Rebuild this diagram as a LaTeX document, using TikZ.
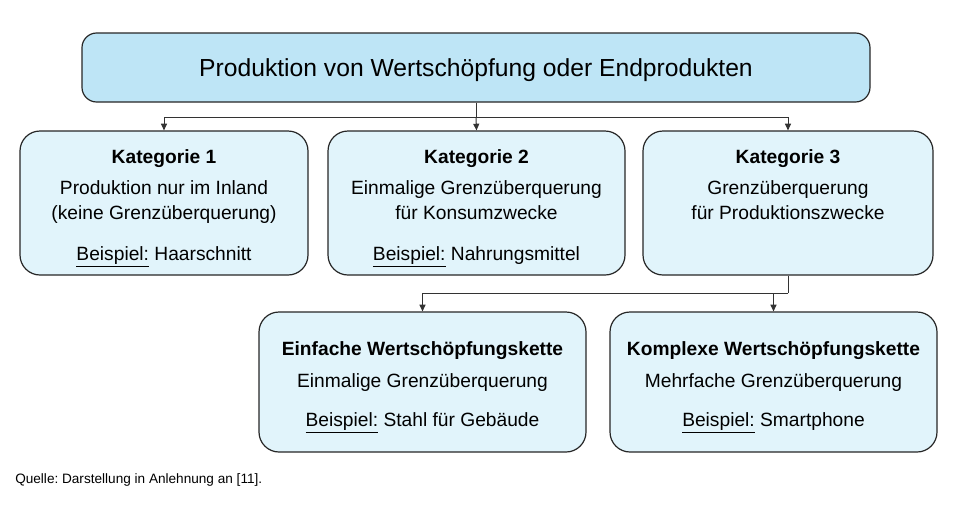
\documentclass[tikz,border=0pt]{standalone}
\usepackage{fontspec}
\setmainfont{Liberation Sans}
\usetikzlibrary{arrows.meta}
\frenchspacing

\definecolor{titelblau}{RGB}{190,229,246}
\definecolor{hellblau}{RGB}{225,244,251}
\newcommand{\bsp}{\underline{Beispiel:}}
\newcommand{\kopf}[1]{\rule{0pt}{18pt}\textbf{#1}}

\begin{document}
\begin{tikzpicture}[x=0.75pt,y=-0.75pt,
  kasten/.style={draw=black!85, line width=0.9pt, rounded corners=15pt,
    fill=hellblau, align=center, inner sep=0pt,
    font=\fontsize{14.4}{18.75}\selectfont},
  pfeil/.style={draw=black!80, line width=0.75pt,
    -{Triangle[length=5pt,width=4.5pt]}},
  linie/.style={draw=black!80, line width=0.75pt}]

  \useasboundingbox (0,0) rectangle (954,504);

  % Titel
  \node[kasten, fill=titelblau, rounded corners=11pt,
        minimum width=591pt, minimum height=51.75pt,
        font=\fontsize{18.5}{22}\selectfont] (top) at (476,67.5)
    {\rule{0pt}{18pt}Produktion von Wertschöpfung oder Endprodukten};

  % Kategorien
  \node[kasten, minimum width=216pt, minimum height=108pt] (k1) at (164,203)
    {\kopf{Kategorie 1}\\[4.5pt]
     Produktion nur im Inland\\
     (keine Grenzüberquerung)\\[12pt]
     \bsp{} Haarschnitt};
  \node[kasten, minimum width=222.75pt, minimum height=108pt] (k2) at (476.5,203)
    {\kopf{Kategorie 2}\\[4.5pt]
     Einmalige Grenzüberquerung\\
     für Konsumzwecke\\[12pt]
     \bsp{} Nahrungsmittel};
  \node[kasten, minimum width=217.5pt, minimum height=108pt] (k3) at (788,203)
    {\kopf{Kategorie 3}\\[4.5pt]
     Grenzüberquerung\\
     für Produktionszwecke\\[12pt]
     \phantom{\bsp{} Smartphone}};

  % Wertschöpfungsketten
  \node[kasten, minimum width=245.25pt, minimum height=105pt] (ek) at (422.5,382)
    {\kopf{Einfache Wertschöpfungskette}\\[5.25pt]
     Einmalige Grenzüberquerung\\[10.5pt]
     \bsp{} Stahl für Gebäude};
  \node[kasten, minimum width=245.25pt, minimum height=105pt] (kk) at (773.5,382)
    {\kopf{Komplexe Wertschöpfungskette}\\[5.25pt]
     Mehrfache Grenzüberquerung\\[10.5pt]
     \bsp{} Smartphone};

  % Verbindungen
  \coordinate (j1) at (476,117);
  \draw[linie] (top.south) -- (j1);
  \draw[pfeil] (j1) -| (k1.north);
  \draw[pfeil] (j1) -- (k2.north);
  \draw[pfeil] (j1) -| (k3.north);

  \coordinate (j2) at (788,293);
  \draw[linie] (k3.south) -- (j2);
  \draw[pfeil] (j2) -| (ek.north);
  \draw[pfeil] (j2) -| (kk.north);

  % Quelle
  \node[anchor=base west, inner sep=0pt, font=\fontsize{10.2}{12}\selectfont]
    (quelle) at (15,483) {Quelle: Darstellung in Anlehnung an [11].};
\end{tikzpicture}
\end{document}
